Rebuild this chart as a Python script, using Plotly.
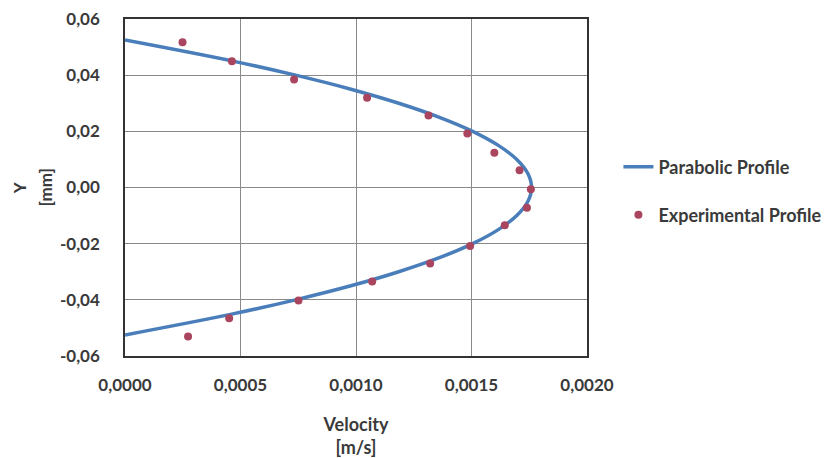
import plotly.graph_objects as go

# Experimental profile (velocity m/s, Y mm)
exp_velocity = [0.000249, 0.000463, 0.000732, 0.001048, 0.001314, 0.001482, 0.001599, 0.001708,
                0.001757, 0.001740, 0.001644, 0.001494, 0.001321, 0.001070, 0.000751, 0.000451, 0.000273]
exp_y = [0.0517, 0.0450, 0.0385, 0.0320, 0.0256, 0.0192, 0.0124, 0.0061,
         -0.0006, -0.0072, -0.0134, -0.0208, -0.0271, -0.0335, -0.0402, -0.0466, -0.0531]

# Parabolic profile points
par_y = [0.0525, 0.045, 0.040, 0.035, 0.030, 0.025, 0.020, 0.015, 0.010, 0.005, 0.0,
         -0.005, -0.010, -0.015, -0.020, -0.025, -0.030, -0.035, -0.040, -0.045, -0.0525]
par_velocity = [0.0, 0.000467, 0.000738, 0.000978, 0.001185, 0.001361, 0.001505, 0.001616, 0.001696, 0.001744, 0.00176,
                0.001744, 0.001696, 0.001616, 0.001505, 0.001361, 0.001185, 0.000978, 0.000738, 0.000467, 0.0]

x_ticks = [0.0, 0.0005, 0.0010, 0.0015, 0.0020]
x_ticklabels = ["0,0000", "0,0005", "0,0010", "0,0015", "0,0020"]
y_ticks = [-0.06, -0.04, -0.02, 0.0, 0.02, 0.04, 0.06]
y_ticklabels = ["-0,06", "-0,04", "-0,02", "0,00", "0,02", "0,04", "0,06"]

FONT = "Lato"
TXT = "#3a3a3a"

fig = go.Figure()
fig.add_trace(go.Scatter(
    x=par_velocity, y=par_y, mode="lines", name="Parabolic Profile",
    line=dict(color="#4A7EBB", width=3.5, shape="spline"), legend="legend"))
fig.add_trace(go.Scatter(
    x=exp_velocity, y=exp_y, mode="markers", name="Experimental Profile",
    marker=dict(color="#A9455E", size=8), legend="legend2"))

axis_common = dict(
    showline=True, mirror=True, linecolor="#333333", linewidth=1.5,
    showgrid=True, gridcolor="#8a8a8a", gridwidth=1, zeroline=False,
    ticks="", tickfont=dict(family=FONT, size=17, color=TXT, weight="bold"),
    automargin=False, ticklabeloverflow="allow",
)

fig.update_xaxes(range=[0, 0.002], tickvals=x_ticks, ticktext=x_ticklabels, ticklabelstandoff=13,
                 title=dict(text="Velocity<br>[m/s]", font=dict(family=FONT, size=18, color=TXT, weight="bold"), standoff=26),
                 **axis_common)
fig.update_yaxes(range=[-0.06, 0.06], tickvals=y_ticks, ticktext=y_ticklabels, ticklabelstandoff=20,
                 **axis_common)

title_font = dict(family=FONT, size=17, color=TXT, weight="bold")
fig.add_annotation(text="Y", xref="paper", yref="paper", x=-0.228, y=0.5, textangle=-90,
                   showarrow=False, font=title_font, xanchor="center", yanchor="middle")
fig.add_annotation(text="[mm]", xref="paper", yref="paper", x=-0.171, y=0.5, textangle=-90,
                   showarrow=False, font=title_font, xanchor="center", yanchor="middle")

leg_common = dict(xanchor="left", yanchor="middle", bgcolor="rgba(0,0,0,0)",
                  font=dict(family=FONT, size=18, color=TXT, weight="bold"))
fig.update_layout(
    width=830, height=450,
    margin=dict(l=117, r=239, t=11, b=102),
    paper_bgcolor="white", plot_bgcolor="white",
    showlegend=True,
    legend=dict(x=1.068, y=0.561, **leg_common),
    legend2=dict(x=1.068, y=0.418, **leg_common),
)

fig.write_html("out.html")
